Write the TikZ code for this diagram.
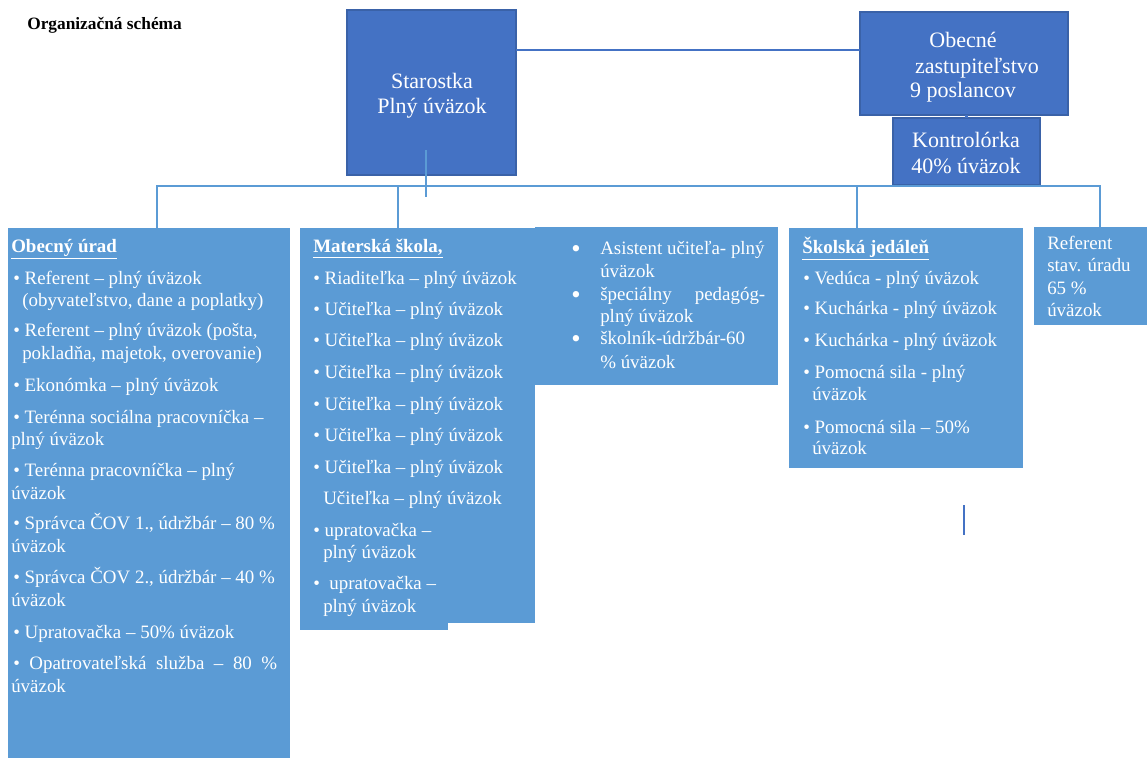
\documentclass[tikz,border=0pt]{standalone}
\usepackage{fontspec}
\setmainfont{Liberation Serif}
\usetikzlibrary{fit}
\definecolor{dkfill}{HTML}{4472C4}
\definecolor{dkline}{HTML}{3A62A8}
\definecolor{ltfill}{HTML}{5B9BD5}
\definecolor{lnblue}{HTML}{5B9BD5}
\tikzset{
  dkbox/.style={draw=dkline, line width=0.8pt, fill=dkfill, inner sep=0pt, outer sep=0pt},
  ltbox/.style={fill=ltfill, inner sep=0pt, outer sep=0pt},
  txt/.style={anchor=base west, inner sep=0pt, text=white, font=\fontsize{14.2pt}{17pt}\selectfont},
  bigbul/.style={anchor=base, inner sep=0pt, text=white, font=\fontsize{20pt}{20pt}\selectfont},
  bigtxt/.style={anchor=base, inner sep=0pt, text=white, font=\fontsize{16.5pt}{20pt}\selectfont},
  conn/.style={draw=lnblue, line width=1.6pt},
  dkconn/.style={draw=dkfill, line width=1.6pt},
}
\begin{document}
\begin{tikzpicture}[x=0.75pt,y=-0.75pt]
\path[use as bounding box, fill=white] (0,0) rectangle (1147,758);

% title
\node[anchor=base west, inner sep=0pt, font=\fontsize{13pt}{15pt}\selectfont\bfseries] (title) at (27,29) {Organizačná schéma};

% boxes
\node[dkbox, fit={(347,10)(516,175)}] (star) {};
\node[dkbox, fit={(860,12)(1068,115)}] (obz) {};
\node[dkbox, fit={(893,118)(1040,185)}] (kon) {};
\node[ltbox, fit={(8,228)(290,758)}] (ou) {};
\node[ltbox, fit={(300,228)(535,623)}] (ms) {};
\node[ltbox, fit={(300,620)(448,630)}] (msb) {};
\node[ltbox, fit={(535,227)(778,385)}] (as) {};
\node[ltbox, fit={(789,228)(1023,468)}] (sj) {};
\node[ltbox, fit={(1034,227)(1147,325)}] (ref) {};

% top box texts
\node[bigtxt] (st1) at (432,88) {Starostka};
\node[bigtxt] (st2) at (432,113) {Plný úväzok};
\node[bigtxt] (ob1) at (963,47) {Obecné};
\node[bigtxt] (ob2) at (977,73) {zastupiteľstvo};
\node[bigtxt] (ob3) at (963,97) {9 poslancov};
\node[bigtxt] (ko1) at (966,147) {Kontrolórka};
\node[bigtxt] (ko2) at (966,173) {40\% úväzok};

% Obecny urad
\node[txt] (ou0) at (11,252) {\underline{\textbf{Obecný úrad}}};
\node[txt] (ou1) at (13,284) {• Referent – plný úväzok};
\node[txt] (ou2) at (22,306) {(obyvateľstvo, dane a poplatky)};
\node[txt] (ou3) at (13,336) {• Referent – plný úväzok (pošta,};
\node[txt] (ou4) at (22,359) {pokladňa, majetok, overovanie)};
\node[txt] (ou5) at (13,391) {• Ekonómka – plný úväzok};
\node[txt] (ou6) at (13,423) {• Terénna sociálna pracovníčka –};
\node[txt] (ou7) at (11,445) {plný úväzok};
\node[txt] (ou8) at (13,476) {• Terénna pracovníčka – plný};
\node[txt] (ou9) at (11,499) {úväzok};
\node[txt] (ou10) at (13,529) {• Správca ČOV 1., údržbár – 80 \%};
\node[txt] (ou11) at (11,552) {úväzok};
\node[txt] (ou12) at (13,583) {• Správca ČOV 2., údržbár – 40 \%};
\node[txt] (ou13) at (11,606) {úväzok};
\node[txt] (ou14) at (13,638) {• Upratovačka – 50\% úväzok};
\node[txt] (ou15) at (13,669) {\makebox[198pt][s]{• Opatrovateľská služba – 80 \%}};
\node[txt] (ou16) at (11,692) {úväzok};

% Materska skola
\node[txt] (ms0) at (313,252) {\underline{\textbf{Materská škola,}}};
\node[txt] (ms1) at (313,284) {• Riaditeľka – plný úväzok};
\node[txt] (ms2) at (313,315) {• Učiteľka – plný úväzok};
\node[txt] (ms3) at (313,346) {• Učiteľka – plný úväzok};
\node[txt] (ms4) at (313,378) {• Učiteľka – plný úväzok};
\node[txt] (ms5) at (313,410) {• Učiteľka – plný úväzok};
\node[txt] (ms6) at (313,441) {• Učiteľka – plný úväzok};
\node[txt] (ms7) at (313,473) {• Učiteľka – plný úväzok};
\node[txt] (ms8) at (323,504) {Učiteľka – plný úväzok};
\node[txt] (ms9) at (313,536) {• upratovačka –};
\node[txt] (ms10) at (323,558) {plný úväzok};
\node[txt] (ms11) at (313,589) {•\ \ upratovačka –};
\node[txt] (ms12) at (323,612) {plný úväzok};

% Asistent
\node[bigbul] (asb1) at (576,257) {•};
\node[txt] (as1) at (600,254) {Asistent učiteľa- plný};
\node[txt] (as2) at (600,277) {úväzok};
\node[bigbul] (asb2) at (576,303) {•};
\node[txt] (as3) at (600,300) {\makebox[123.75pt][s]{špeciálny pedagóg-}};
\node[txt] (as4) at (600,322) {plný úväzok};
\node[bigbul] (asb3) at (576,347) {•};
\node[txt] (as5) at (600,344) {školník-údržbár-60};
\node[txt] (as6) at (600,368) {\% úväzok};

% Skolska jedalen
\node[txt] (sj0) at (802,253) {\underline{\textbf{Školská jedáleň}}};
\node[txt] (sj1) at (803,284) {• Vedúca - plný úväzok};
\node[txt] (sj2) at (803,314) {• Kuchárka - plný úväzok};
\node[txt] (sj3) at (803,346) {• Kuchárka - plný úväzok};
\node[txt] (sj4) at (803,378) {• Pomocná sila - plný};
\node[txt] (sj5) at (812,400) {úväzok};
\node[txt] (sj6) at (803,433) {• Pomocná sila – 50\%};
\node[txt] (sj7) at (812,454) {úväzok};

% Referent
\node[txt] (rf1) at (1047,249) {Referent};
\node[txt] (rf2) at (1047,271) {stav. úradu};
\node[txt] (rf3) at (1047,294) {65 \%};
\node[txt] (rf4) at (1047,316) {úväzok};

% connectors
\coordinate (c1) at (700,50);
\draw[dkconn] (star.east |- c1) -- (obz.west |- c1);
\draw[dkconn] (obz.south -| kon.north) -- (kon.north);
\coordinate (s1) at (426,150);
\coordinate (s2) at (426,197);
\draw[conn] (s1) -- (s2);
\coordinate (d1) at (157,186);
\coordinate (d2) at (398,186);
\coordinate (d3) at (857,186);
\coordinate (d4) at (1100,186);
\draw[conn] (ou.north -| d1) -- (d1) -- (d4) -- (ref.north -| d4);
\draw[conn] (d2) -- (ms.north -| d2);
\draw[conn] (d3) -- (sj.north -| d3);
\coordinate (v1) at (964,505);
\coordinate (v2) at (964,535);
\draw[dkconn] (v1) -- (v2);
\end{tikzpicture}
\end{document}
